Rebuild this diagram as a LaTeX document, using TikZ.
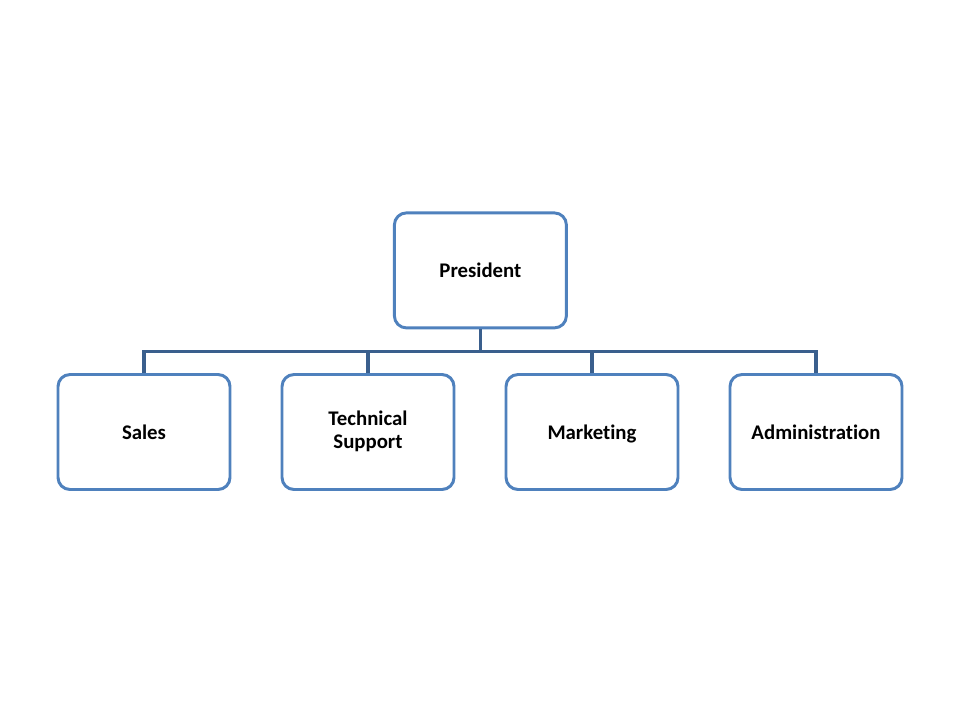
\documentclass[tikz,border=0pt]{standalone}
\usepackage{fontspec}
\setmainfont{Carlito}[RawFeature=-liga]
\definecolor{boxblue}{RGB}{79,129,189}
\definecolor{lineblue}{RGB}{58,95,141}
\newcommand\unitstrut{\rule[-3.8pt]{0pt}{18.2pt}}
\begin{document}
\begin{tikzpicture}[
    unit/.style={draw=boxblue, line width=2.1pt, rounded corners=0.3cm, fill=white,
      minimum width=4.3cm, minimum height=2.875cm, align=center,
      execute at begin node=\unitstrut, execute at end node=\unitstrut,
      font=\fontsize{14.8}{16.5}\selectfont\bfseries},
    link/.style={draw=lineblue, line width=2.4pt}]
  \useasboundingbox (0,0) rectangle (24,18);
  \draw
    (12.01,11.24) node[unit] (pres){President}
    (3.6,7.2) node[unit] (sales){Sales}
    (9.2,7.2) node[unit] (tech){Technical\\Support}
    (14.8,7.2) node[unit] (mark){Marketing}
    (20.4,7.2) node[unit] (admin){Administration};
  \begin{scope}[link]
    \draw (pres.south) -- ++(0,-0.55) coordinate (bus);
    \draw (sales.north) |- (bus);
    \draw (admin.north) |- (bus);
    \draw (tech.north) -- (tech.north |- bus);
    \draw (mark.north) -- (mark.north |- bus);
  \end{scope}
\end{tikzpicture}
\end{document}
